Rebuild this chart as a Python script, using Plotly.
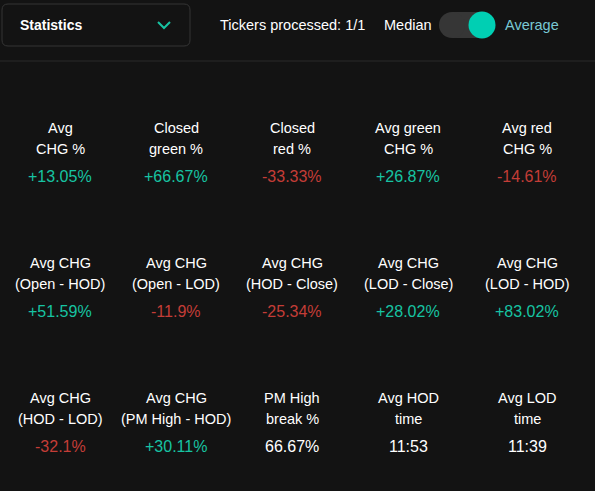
import plotly.graph_objects as go

# stats grid (3 rows x 5 cols)
labels = [
    ["Avg<br>CHG %", "Closed<br>green %", "Closed<br>red %", "Avg green<br>CHG %", "Avg red<br>CHG %"],
    ["Avg CHG<br>(Open - HOD)", "Avg CHG<br>(Open - LOD)", "Avg CHG<br>(HOD - Close)", "Avg CHG<br>(LOD - Close)", "Avg CHG<br>(LOD - HOD)"],
    ["Avg CHG<br>(HOD - LOD)", "Avg CHG<br>(PM High - HOD)", "PM High<br>break %", "Avg HOD<br>time", "Avg LOD<br>time"],
]
values = [
    ["+13.05%", "+66.67%", "-33.33%", "+26.87%", "-14.61%"],
    ["+51.59%", "-11.9%", "-25.34%", "+28.02%", "+83.02%"],
    ["-32.1%", "+30.11%", "66.67%", "11:53", "11:39"],
]
tickers_done = "1/1"

BG = "#131313"
GREEN = "#17c3a2"
RED = "#c43d37"
WHITE = "#ffffff"
FONT = "Arial, Liberation Sans, sans-serif"

col_x = [60, 176, 292, 408, 527]
row_y = [128, 263, 398]
line_dy = 21
value_dy = 48

fig = go.Figure()

def val_color(v):
    if v.startswith("+"):
        return GREEN
    if v.startswith("-"):
        return RED
    return WHITE

annotations = []
for r, row in enumerate(labels):
    for c, lab in enumerate(row):
        for k, part in enumerate(lab.split("<br>")):
            annotations.append(dict(x=col_x[c], y=row_y[r] + k * line_dy, text=part, showarrow=False,
                                    xanchor="center", yanchor="middle",
                                    font=dict(family=FONT, size=14.5, color=WHITE)))
        v = values[r][c]
        annotations.append(dict(x=col_x[c], y=row_y[r] + value_dy, text=v, showarrow=False,
                                xanchor="center", yanchor="middle",
                                font=dict(family=FONT, size=16, color=val_color(v))))

# header
annotations += [
    dict(x=18, y=25, text="<b>Statistics</b>", showarrow=False, xanchor="left", yanchor="middle",
         font=dict(family=FONT, size=14, color=WHITE)),
    dict(x=218, y=25, text="Tickers processed: " + tickers_done, showarrow=False, xanchor="left",
         yanchor="middle", font=dict(family=FONT, size=14.5, color=WHITE)),
    dict(x=382, y=25, text="Median", showarrow=False, xanchor="left", yanchor="middle",
         font=dict(family=FONT, size=14.5, color=WHITE)),
    dict(x=503, y=25, text="Average", showarrow=False, xanchor="left", yanchor="middle",
         font=dict(family=FONT, size=14.5, color="#79c8d3")),
]

shapes = [
    # dropdown box
    dict(type="path", path="M 8 4 L 184 4 Q 190 4 190 10 L 190 40 Q 190 46 184 46 L 8 46 Q 2 46 2 40 L 2 10 Q 2 4 8 4 Z",
         line=dict(color="#353535", width=1), fillcolor=BG),
    # chevron
    dict(type="path", path="M 158 22 L 164 28 L 170 22", line=dict(color=GREEN, width=2)),
    # toggle track
    dict(type="rect", x0=452, y0=12, x1=482, y1=38, line=dict(width=0), fillcolor="#363636"),
    dict(type="circle", x0=439, y0=12, x1=465, y1=38, line=dict(width=0), fillcolor="#363636"),
    # toggle knob
    dict(type="circle", x0=468.5, y0=11.5, x1=495.5, y1=38.5, line=dict(width=0), fillcolor="#00cfb3"),
    # divider
    dict(type="line", x0=0, y0=61, x1=595, y1=61, line=dict(color="#2a2a2a", width=1)),
]

fig.update_layout(
    width=595, height=491,
    margin=dict(l=0, r=0, t=0, b=0),
    paper_bgcolor=BG, plot_bgcolor=BG,
    xaxis=dict(range=[0, 595], visible=False, fixedrange=True),
    yaxis=dict(range=[491, 0], visible=False, fixedrange=True),
    annotations=annotations,
    shapes=shapes,
    showlegend=False,
)

fig.write_html("out.html", config={"displayModeBar": False},
               post_script="document.body.style.margin='0';document.body.style.background='#131313';")
